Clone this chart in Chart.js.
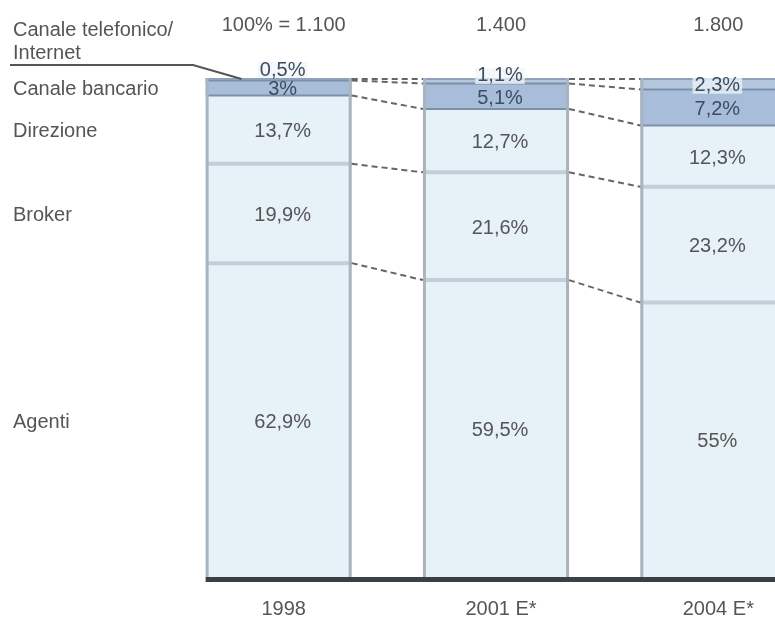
<!DOCTYPE html>
<html>
<head>
<meta charset="utf-8">
<script src="https://cdn.jsdelivr.net/npm/chart.js@4.4.1/dist/chart.umd.min.js"></script>
<style>
  html, body { margin: 0; padding: 0; background: #fff; overflow: hidden; }
  #wrap { position: relative; width: 830px; height: 641px; }
</style>
</head>
<body>
<div id="wrap"><canvas id="chart"></canvas></div>
<script>
// data (shares in %, stacked bottom to top)
const years = ['1998', '2001 E*', '2004 E*'];
const totals = ['100% = 1.100', '1.400', '1.800'];
const seriesNames = ['Agenti', 'Broker', 'Direzione', 'Canale bancario', 'Canale telefonico/ Internet'];
const agenti = [62.9, 59.5, 55];
const broker = [19.9, 21.6, 23.2];
const direzione = [13.7, 12.7, 12.3];
const bancario = [3, 5.1, 7.2];
const telefonico = [0.5, 1.1, 2.3];

const FONT = '20px "Liberation Sans", Arial, sans-serif';
const TEXT = '#555';
const lightFill = '#e7f1f8';

function pct(v) {
    return String(v).replace('.', ',') + '%';
}

// draws separators, connectors, labels
const decorPlugin = {
    id: 'decor',
    afterDatasetsDraw(chart) {
        const ctx = chart.ctx;
        const n = chart.data.datasets.length;
        const bars = [];
        for (let j = 0; j < years.length; j++) {
            const segs = [];
            for (let i = 0; i < n; i++) {
                const el = chart.getDatasetMeta(i).data[j];
                segs.push(el.getProps(['x', 'y', 'base', 'width'], true));
            }
            bars.push(segs);
        }

        ctx.save();

        // horizontal separators inside bars
        bars.forEach(segs => {
            segs.forEach((s, i) => {
                const l = s.x - s.width / 2, r = s.x + s.width / 2;
                if (i > 0) {
                    ctx.beginPath();
                    if (i >= 3) { ctx.strokeStyle = '#7d91a6'; ctx.lineWidth = 2; }
                    else { ctx.strokeStyle = '#c2cfd8'; ctx.lineWidth = 4; }
                    ctx.moveTo(l, s.base);
                    ctx.lineTo(r, s.base);
                    ctx.stroke();
                }
                if (i === n - 1) {
                    ctx.beginPath();
                    ctx.strokeStyle = '#8ea3bb';
                    ctx.lineWidth = 2;
                    ctx.moveTo(l, s.y + 1);
                    ctx.lineTo(r, s.y + 1);
                    ctx.stroke();
                }
            });
            // vertical edges
            const top = segs[n - 1].y, base = segs[0].base;
            const l = segs[0].x - segs[0].width / 2, r = segs[0].x + segs[0].width / 2;
            ctx.strokeStyle = '#a9b5be';
            ctx.lineWidth = 3;
            ctx.beginPath();
            ctx.moveTo(l + 1.5, top); ctx.lineTo(l + 1.5, base);
            ctx.moveTo(r - 1.5, top); ctx.lineTo(r - 1.5, base);
            ctx.stroke();
        });

        // dashed connectors between neighbouring bars
        ctx.setLineDash([6, 4]);
        ctx.strokeStyle = '#666';
        ctx.lineWidth = 2;
        for (let j = 0; j < bars.length - 1; j++) {
            const a = bars[j], b = bars[j + 1];
            const ax = a[0].x + a[0].width / 2, bx = b[0].x - b[0].width / 2;
            const levels = [];
            for (let i = 1; i < n; i++) levels.push([a[i].base, b[i].base]);
            levels.push([a[n - 1].y + 1, b[n - 1].y + 1]);
            levels.forEach(([ya, yb]) => {
                ctx.beginPath();
                ctx.moveTo(ax, ya);
                ctx.lineTo(bx, yb);
                ctx.stroke();
            });
        }
        ctx.setLineDash([]);

        // baseline
        const first = bars[0][0];
        ctx.strokeStyle = '#3b4046';
        ctx.lineWidth = 5;
        ctx.beginPath();
        ctx.moveTo(first.x - first.width / 2, chart.chartArea.bottom + 2.5);
        ctx.lineTo(chart.width, chart.chartArea.bottom + 2.5);
        ctx.stroke();

        // value labels
        ctx.font = FONT;
        ctx.textAlign = 'center';
        ctx.textBaseline = 'middle';
        bars.forEach((segs, j) => {
            segs.forEach((s, i) => {
                const v = chart.data.datasets[i].data[j];
                const h = s.base - s.y;
                let y = (s.y + s.base) / 2 + 2;
                if (h < 10) y -= (10 - h) * 1.5;
                const txt = pct(v);
                if (i >= 3) {
                    const w = ctx.measureText(txt).width;
                    ctx.fillStyle = 'rgba(240,245,250,0.75)';
                    if (h < 14) ctx.fillRect(s.x + 4 - w / 2 - 2, y - 8, w + 4, 16);
                    ctx.fillStyle = '#3d4d60';
                } else {
                    ctx.fillStyle = TEXT;
                }
                ctx.fillText(txt, s.x + 4, y);
            });
        });

        // top totals
        ctx.fillStyle = TEXT;
        bars.forEach((segs, j) => {
            ctx.fillText(totals[j], segs[0].x + 5, 25);
        });

        // series names on the left
        ctx.textAlign = 'left';
        const b0 = bars[0];
        for (let i = 0; i < n - 1; i++) {
            const s = b0[i];
            ctx.fillText(seriesNames[i], 13, (s.y + s.base) / 2 + 2);
        }
        const parts = seriesNames[n - 1].split('/ ');
        ctx.fillText(parts[0] + '/', 13, 30);
        ctx.fillText(parts[1], 13, 53);
        // leader line from the label to the top segment
        const t = b0[n - 1];
        ctx.strokeStyle = '#555';
        ctx.lineWidth = 2;
        ctx.beginPath();
        ctx.moveTo(10, 65);
        ctx.lineTo(193, 65);
        ctx.lineTo(t.x - t.width / 2 + 36, t.y + 1);
        ctx.stroke();

        ctx.restore();
    }
};

new Chart(document.getElementById('chart'), {
    type: 'bar',
    data: {
        labels: years,
        datasets: [
            { label: seriesNames[0], data: agenti, backgroundColor: lightFill },
            { label: seriesNames[1], data: broker, backgroundColor: lightFill },
            { label: seriesNames[2], data: direzione, backgroundColor: lightFill },
            { label: seriesNames[3], data: bancario, backgroundColor: '#a8bdd9' },
            { label: seriesNames[4], data: telefonico, backgroundColor: '#b5c7de' }
        ]
    },
    options: {
        responsive: true,
        maintainAspectRatio: false,
        animation: false,
        layout: { padding: { left: 170, right: 8, top: 78, bottom: 0 } },
        datasets: {
            bar: { categoryPercentage: 1, barPercentage: 0.672, borderWidth: 0 }
        },
        scales: {
            x: {
                stacked: true,
                grid: { display: false, drawTicks: false },
                border: { display: false },
                ticks: {
                    color: TEXT,
                    padding: 20,
                    labelOffset: 5,
                    font: { family: '"Liberation Sans", Arial, sans-serif', size: 20 }
                }
            },
            y: {
                stacked: true,
                display: false,
                min: 0,
                max: 100
            }
        },
        plugins: {
            legend: { display: false },
            tooltip: { enabled: false }
        }
    },
    plugins: [decorPlugin]
});
</script>
</body>
</html>
